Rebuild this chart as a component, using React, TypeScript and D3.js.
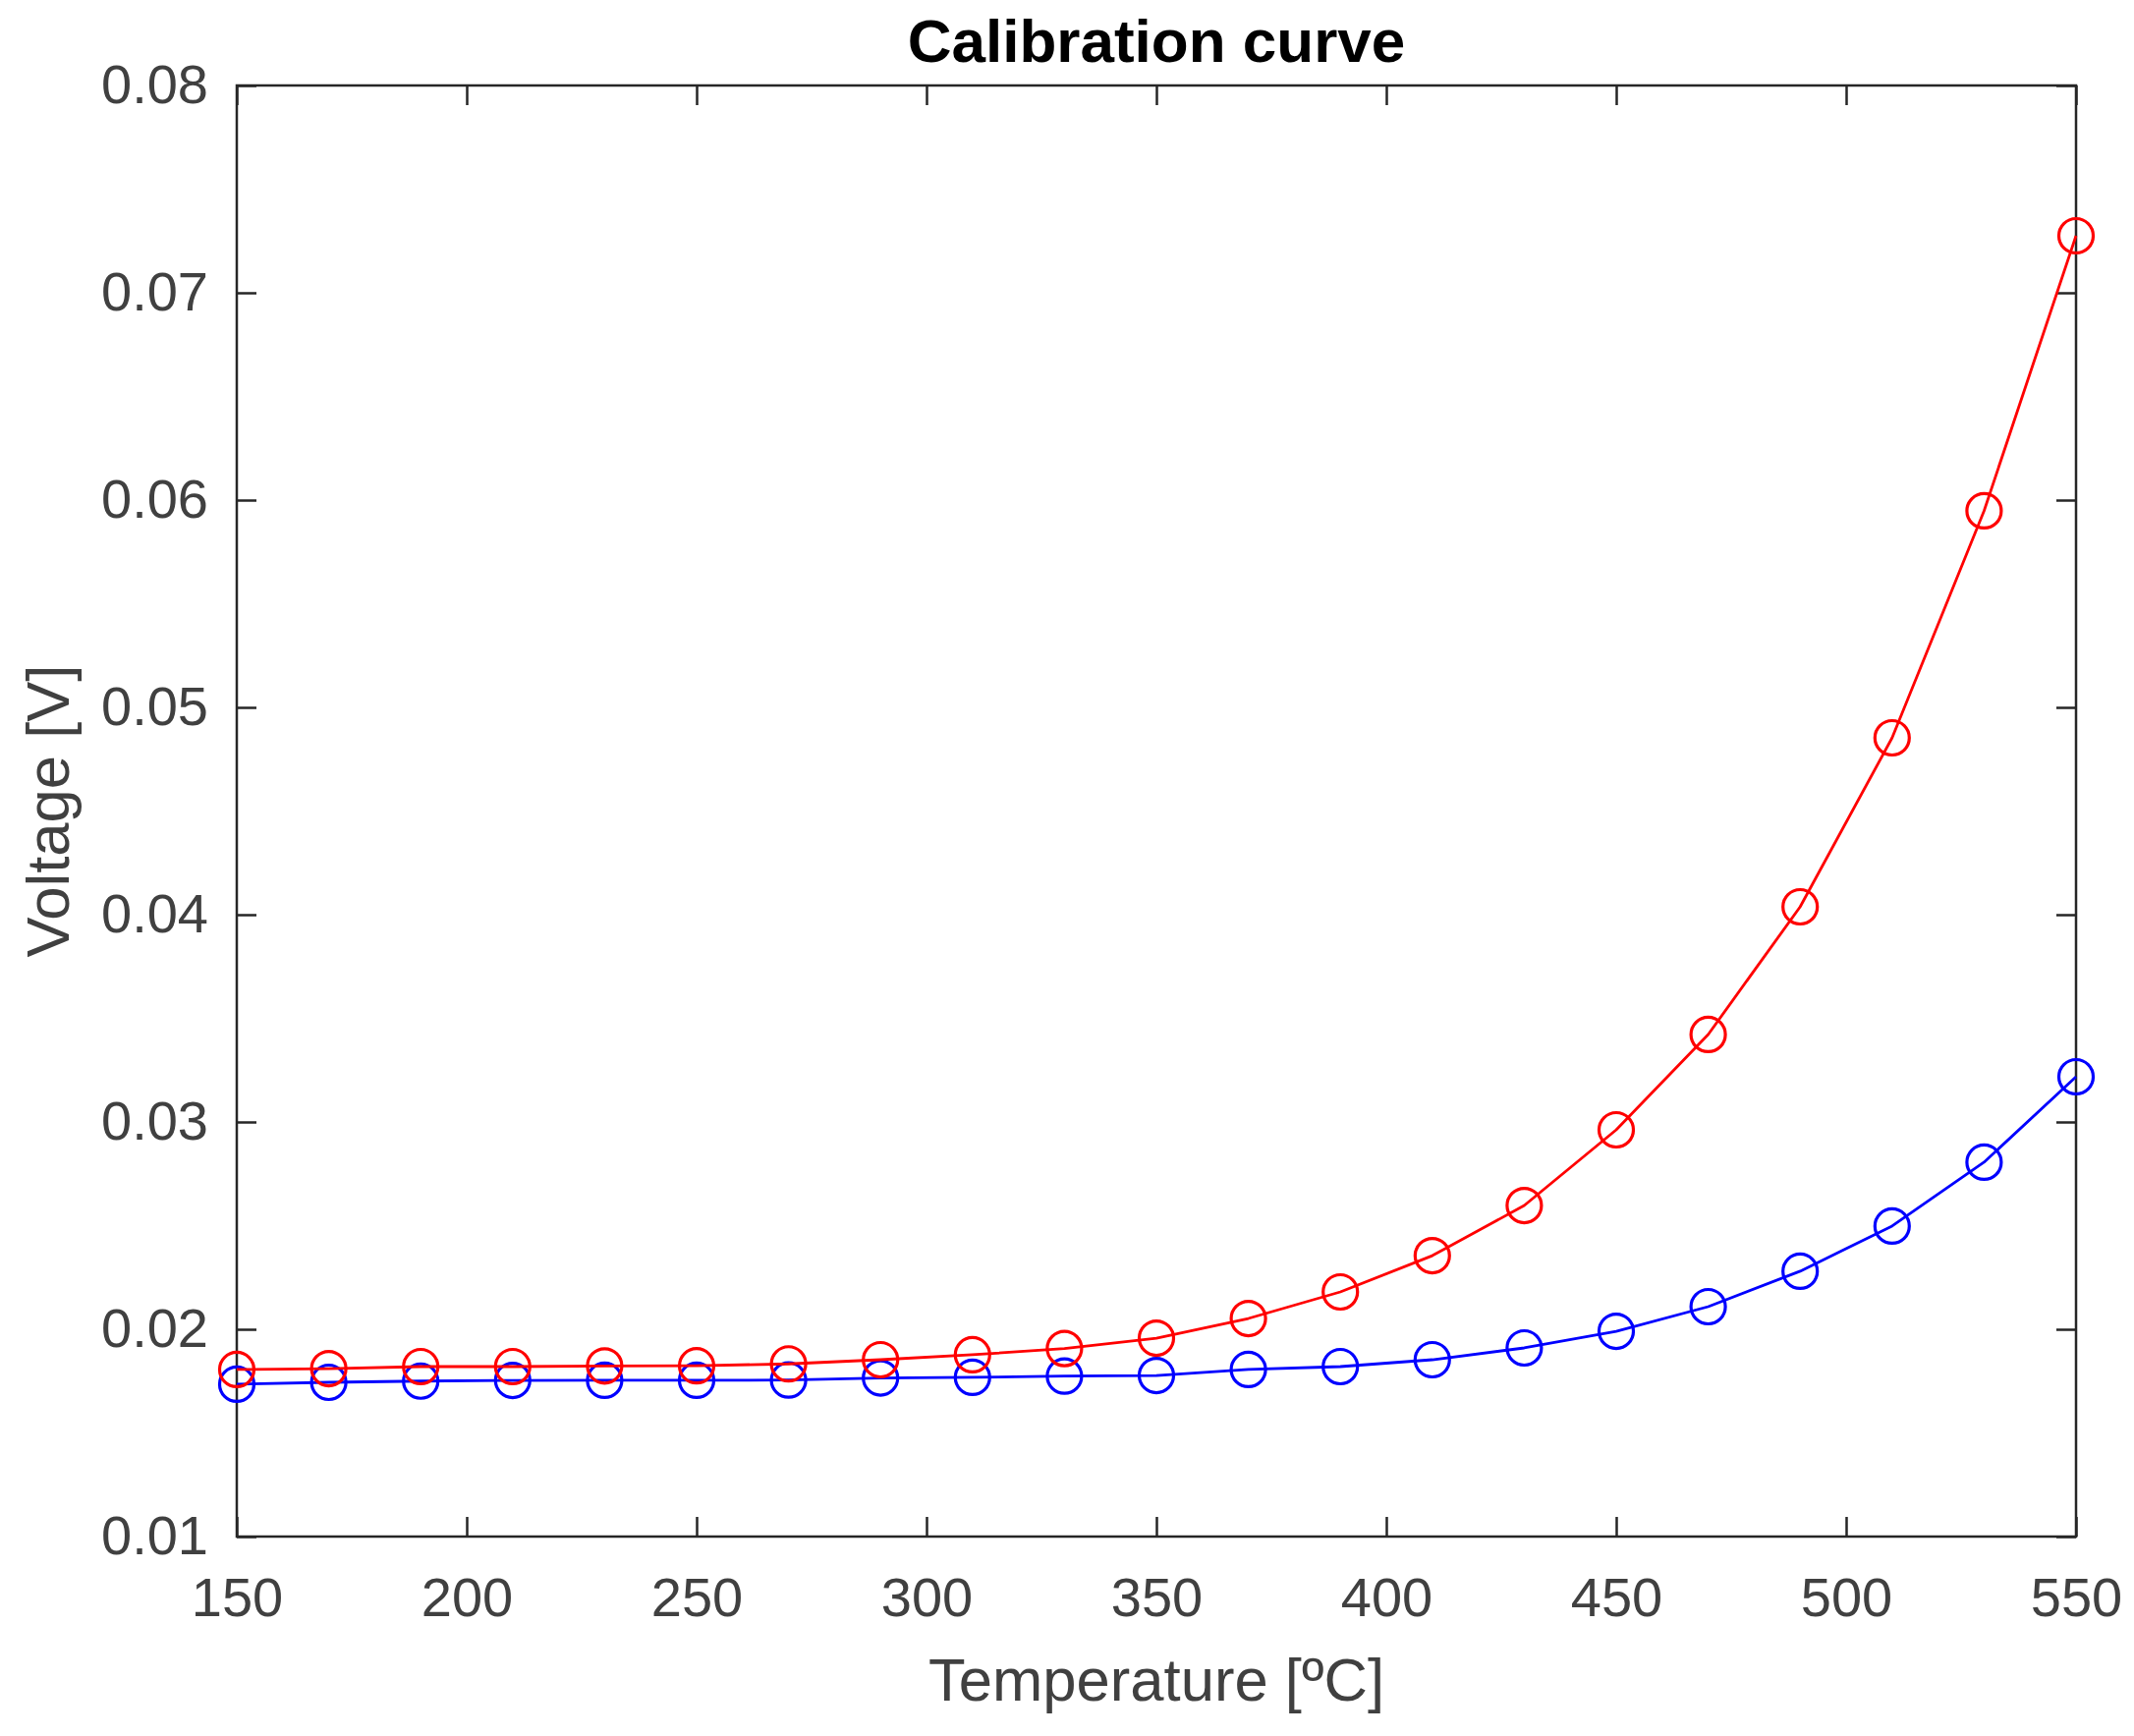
import React, { useEffect, useRef } from 'react';
import * as d3 from 'd3';

// Temperature samples [ºC]
const temperatures = [150, 170, 190, 210, 230, 250, 270, 290, 310, 330, 350, 370, 390, 410, 430, 450, 470, 490, 510, 530, 550];

// Upper (red) curve [V]
const redVoltage = [0.01806, 0.0181, 0.0182, 0.0182, 0.01823, 0.01824, 0.01833, 0.01853, 0.01877, 0.01907, 0.01957, 0.02052, 0.0218, 0.02355, 0.02597, 0.02962, 0.03422, 0.04038, 0.04853, 0.05948, 0.07275];

// Lower (blue) curve [V]
const blueVoltage = [0.01735, 0.01744, 0.0175, 0.01753, 0.01754, 0.01754, 0.01755, 0.01765, 0.01768, 0.01774, 0.01777, 0.01806, 0.0182, 0.01853, 0.0191, 0.0199, 0.02109, 0.0228, 0.02498, 0.02806, 0.03218];

const xTicks = [150, 200, 250, 300, 350, 400, 450, 500, 550];
const yTicks = [0.01, 0.02, 0.03, 0.04, 0.05, 0.06, 0.07, 0.08];

const CalibrationChart = () => {
  const svgRef = useRef(null);

  useEffect(() => {
    const width = 2172;
    const height = 1767;
    const margin = { top: 87, right: 59, bottom: 203, left: 241 };
    const font = '"Liberation Sans", Arial, Helvetica, sans-serif';
    const axisColor = '#262626';
    const textColor = '#404040';

    d3.select(svgRef.current).selectAll('*').remove();

    const svg = d3.select(svgRef.current)
      .attr('width', width)
      .attr('height', height)
      .style('background', '#fff');

    const x = d3.scaleLinear()
      .domain([150, 550])
      .range([margin.left, width - margin.right]);

    const y = d3.scaleLinear()
      .domain([0.01, 0.08])
      .range([height - margin.bottom, margin.top]);

    const styleAxis = (g) => {
      g.select('.domain').remove();
      g.selectAll('.tick line')
        .attr('stroke', axisColor)
        .attr('stroke-width', 2.5);
      g.selectAll('.tick text')
        .attr('fill', textColor)
        .style('font-family', font)
        .style('font-size', '56px');
    };

    // Bottom axis with labels
    svg.append('g')
      .attr('transform', `translate(0,${height - margin.bottom})`)
      .call(d3.axisBottom(x).tickValues(xTicks).tickSizeInner(-20).tickSizeOuter(0).tickPadding(41).tickFormat(d3.format('d')))
      .call(styleAxis);

    // Top mirrored ticks
    svg.append('g')
      .attr('transform', `translate(0,${margin.top})`)
      .call(d3.axisTop(x).tickValues(xTicks).tickSizeInner(-20).tickSizeOuter(0).tickFormat(() => ''))
      .call(styleAxis);

    // Left axis with labels
    svg.append('g')
      .attr('transform', `translate(${margin.left},0)`)
      .call(d3.axisLeft(y).tickValues(yTicks).tickSizeInner(-20).tickSizeOuter(0).tickPadding(29).tickFormat(d3.format('.2f')))
      .call(styleAxis);

    // Right mirrored ticks
    svg.append('g')
      .attr('transform', `translate(${width - margin.right},0)`)
      .call(d3.axisRight(y).tickValues(yTicks).tickSizeInner(-20).tickSizeOuter(0).tickFormat(() => ''))
      .call(styleAxis);

    // Box
    svg.append('rect')
      .attr('x', margin.left)
      .attr('y', margin.top)
      .attr('width', width - margin.left - margin.right)
      .attr('height', height - margin.top - margin.bottom)
      .attr('fill', 'none')
      .attr('stroke', axisColor)
      .attr('stroke-width', 2.5);

    const series = [
      { values: blueVoltage, color: '#0000ff' },
      { values: redVoltage, color: '#ff0000' }
    ];

    const line = d3.line<number>()
      .x((_, i) => x(temperatures[i]))
      .y(d => y(d));

    series.forEach(s => {
      svg.append('path')
        .datum(s.values)
        .attr('d', line)
        .attr('fill', 'none')
        .attr('stroke', s.color)
        .attr('stroke-width', 2.8)
        .attr('stroke-linejoin', 'round');

      svg.append('g')
        .selectAll('circle')
        .data(s.values)
        .join('circle')
        .attr('cx', (_, i) => x(temperatures[i]))
        .attr('cy', d => y(d))
        .attr('r', 17.5)
        .attr('fill', 'none')
        .attr('stroke', s.color)
        .attr('stroke-width', 3.2);
    });

    const cx = (margin.left + width - margin.right) / 2;
    const cy = (margin.top + height - margin.bottom) / 2;

    // Title
    svg.append('text')
      .attr('x', cx)
      .attr('y', 63)
      .attr('text-anchor', 'middle')
      .attr('fill', '#000')
      .style('font-family', font)
      .style('font-size', '62px')
      .style('font-weight', 'bold')
      .text('Calibration curve');

    // X label
    svg.append('text')
      .attr('x', cx)
      .attr('y', 1731)
      .attr('text-anchor', 'middle')
      .attr('fill', textColor)
      .style('font-family', font)
      .style('font-size', '61.6px')
      .text('Temperature [ºC]');

    // Y label
    svg.append('text')
      .attr('transform', `translate(70,${cy}) rotate(-90)`)
      .attr('text-anchor', 'middle')
      .attr('fill', textColor)
      .style('font-family', font)
      .style('font-size', '61.6px')
      .text('Voltage [V]');
  }, []);

  return (
    <svg ref={svgRef} style={{ position: 'absolute', left: 0, top: 0, display: 'block' }}></svg>
  );
};

export default function App() {
  return <CalibrationChart />;
}
